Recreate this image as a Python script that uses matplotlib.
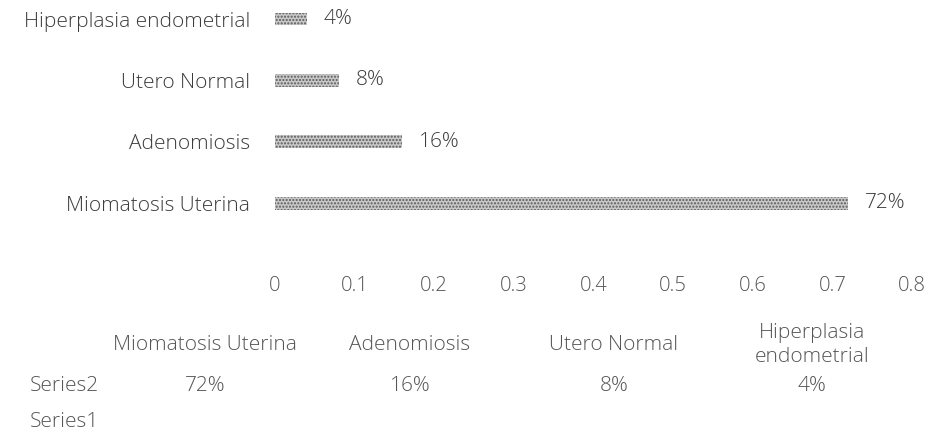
import matplotlib
matplotlib.use("Agg")
import matplotlib.pyplot as plt

categories = ["Miomatosis Uterina", "Adenomiosis", "Utero Normal", "Hiperplasia endometrial"]
table_headers = ["Miomatosis Uterina", "Adenomiosis", "Utero Normal", "Hiperplasia\nendometrial"]
values = [0.72, 0.16, 0.08, 0.04]
value_labels = ["72%", "16%", "8%", "4%"]
xticks = [0, 0.1, 0.2, 0.3, 0.4, 0.5, 0.6, 0.7, 0.8]
series_names = ["Series2", "Series1"]

plt.rcParams['font.family'] = ['Open Sans', 'DejaVu Sans']
txt_color = '#3c3c3c'
tbl_color = '#555555'

fig = plt.figure(figsize=(9.29, 4.34), dpi=100)
ax = fig.add_axes([275 / 929, 1 - 234 / 434, (912 - 275) / 929, 234 / 434])

y = list(range(len(categories)))
ax.barh(y, values, height=0.21, color='#c8c8c8', edgecolor='#5a5a5a',
        linewidth=0, hatch='.....')
for yi, v, lab in zip(y, values, value_labels):
    ax.annotate(lab, (v, yi), xytext=(12, 0), textcoords='offset points',
                va='center', ha='left', fontsize=15, color=txt_color,
                fontweight='light')

ax.set_xlim(0, 0.8)
ax.set_ylim(-0.5, 3 + 19 / 61.3)
ax.set_xticks(xticks)
ax.set_xticklabels([f"{t:g}" for t in xticks], fontsize=14.5, color='#555555',
                   fontweight='light')
ax.set_yticks(y)
ax.set_yticklabels(categories, fontsize=15, color=txt_color, fontweight='light')
ax.tick_params(axis='x', length=0, pad=30)
ax.tick_params(axis='y', length=0, pad=18)
for s in ax.spines.values():
    s.set_visible(False)

# data table below the chart
col_x = [205, 410, 614, 812]
for cx, head, lab in zip(col_x, table_headers, value_labels):
    fig.text(cx / 929, 1 - 345 / 434, head, ha='center', va='center',
             fontsize=15, color=tbl_color, fontweight='light', linespacing=1.3)
    fig.text(cx / 929, 1 - 386 / 434, lab, ha='center', va='center',
             fontsize=15, color=tbl_color, fontweight='light')
for i, name in enumerate(series_names):
    fig.text(30 / 929, 1 - (386 + 36 * i) / 434, name, ha='left', va='center',
             fontsize=15, color=tbl_color, fontweight='light')

fig.savefig("out.png", dpi=100)
